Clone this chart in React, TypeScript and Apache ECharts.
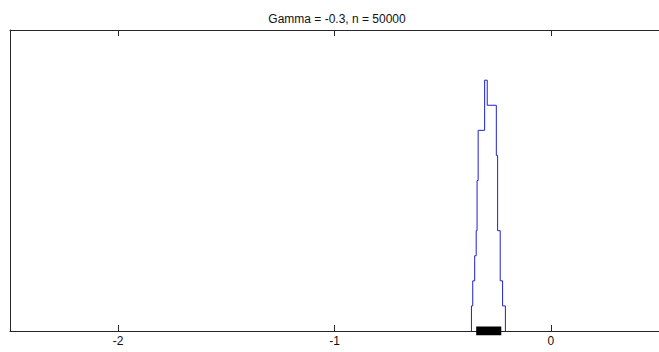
import React, { useEffect, useRef } from "react";
import * as echarts from "echarts";

// Title and axis
const chartTitle = "Gamma = -0.3, n = 50000";
const xMin = -2.5;
const xMax = 0.5;
const xTicks = [-2, -1, 0];
const yMax = 12;

// Stairs outline of the histogram: bin edges and heights (arbitrary units)
const binEdges = [-0.367, -0.361, -0.352, -0.345, -0.341, -0.336, -0.306, -0.294, -0.252, -0.246, -0.234, -0.223, -0.21];
const binHeights = [1, 2, 3, 4, 6, 8, 10, 9, 7, 4, 2, 1];

// Interval bar drawn on the axis
const ciLow = -0.345;
const ciHigh = -0.229;

export default function App() {
  const ref = useRef<HTMLDivElement>(null);

  useEffect(() => {
    document.body.style.margin = "0";
    if (!ref.current) return;
    const chart = echarts.init(ref.current, undefined, { renderer: "svg" });

    const stairs: number[][] = [[binEdges[0], 0]];
    for (let i = 0; i < binHeights.length; i++) {
      stairs.push([binEdges[i], binHeights[i]]);
      stairs.push([binEdges[i + 1], binHeights[i]]);
    }
    stairs.push([binEdges[binEdges.length - 1], 0]);

    const axisColor = "#262626";
    const font = "Liberation Sans, Arial, Helvetica, sans-serif";

    chart.setOption({
      animation: false,
      backgroundColor: "#ffffff",
      title: {
        text: chartTitle,
        left: 337,
        top: 13,
        textAlign: "center",
        padding: 0,
        textStyle: { fontSize: 12, fontWeight: "normal", color: "#111", fontFamily: font },
      },
      grid: { left: 10, top: 30, width: 655, height: 301, show: false },
      xAxis: [
        {
          type: "value",
          position: "bottom",
          min: xMin,
          max: xMax,
          axisLine: { show: true, onZero: false, lineStyle: { color: axisColor, width: 1 } },
          axisTick: { show: true, inside: true, length: 6, customValues: xTicks, lineStyle: { color: axisColor } },
          axisLabel: { show: true, customValues: xTicks, margin: 4, fontSize: 12, color: "#111", fontFamily: font },
          splitLine: { show: false },
        },
        {
          type: "value",
          position: "top",
          min: xMin,
          max: xMax,
          axisLine: { show: true, onZero: false, lineStyle: { color: axisColor, width: 1 } },
          axisTick: { show: true, inside: true, length: 6, customValues: xTicks, lineStyle: { color: axisColor } },
          axisLabel: { show: false },
          splitLine: { show: false },
        },
      ],
      yAxis: {
        type: "value",
        min: 0,
        max: yMax,
        axisLine: { show: true, onZero: false, lineStyle: { color: axisColor, width: 1 } },
        axisTick: { show: false },
        axisLabel: { show: false },
        splitLine: { show: false },
      },
      series: [
        {
          type: "line",
          data: stairs,
          showSymbol: false,
          symbol: "none",
          clip: true,
          lineStyle: { color: "#1f1fd0", width: 1 },
          z: 3,
        },
        {
          type: "line",
          data: [
            [ciLow, 0],
            [ciHigh, 0],
          ],
          showSymbol: false,
          symbol: "none",
          clip: true,
          lineStyle: { color: "#000000", width: 9, cap: "butt" },
          z: 4,
        },
      ],
    });

    return () => chart.dispose();
  }, []);

  return <div ref={ref} style={{ width: 659, height: 352 }} />;
}
